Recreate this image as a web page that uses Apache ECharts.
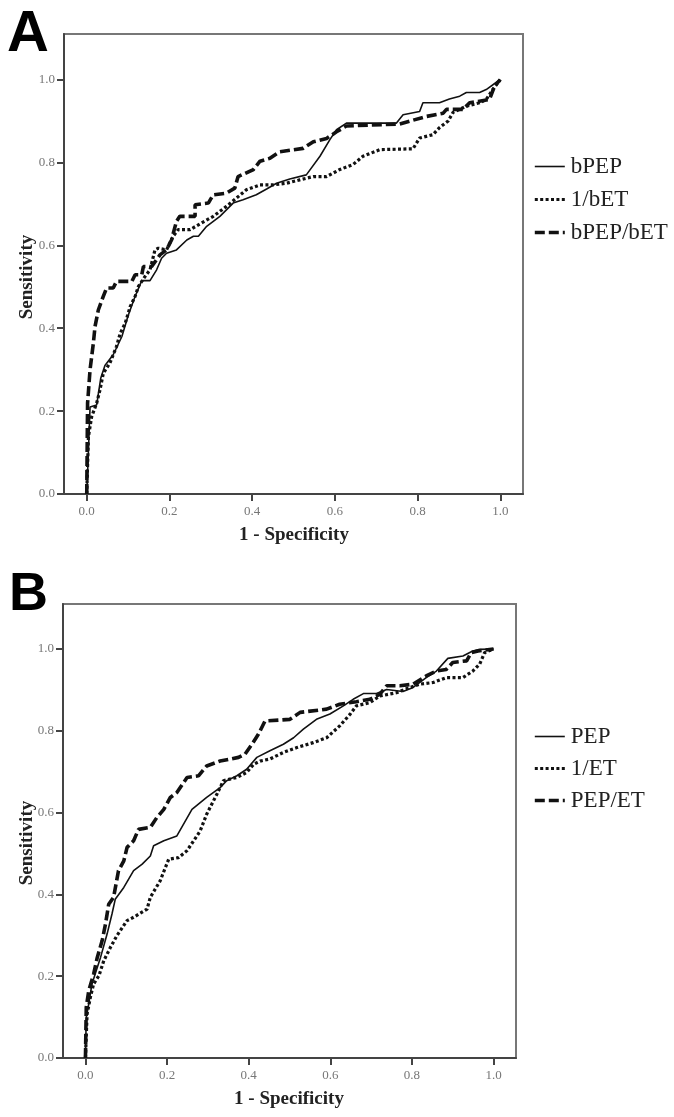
<!DOCTYPE html>
<html>
<head>
<meta charset="utf-8">
<script src="https://cdn.jsdelivr.net/npm/echarts@6/dist/echarts.min.js"></script>
<style>
html,body{margin:0;padding:0;background:#fff;}
#chart{width:674px;height:1117px;}
</style>
</head>
<body>
<div id="chart"></div>
<script>
// ---------- tick labels ----------
const tickValues = [0, 0.2, 0.4, 0.6, 0.8, 1.0];
const panelLabels = ['A', 'B'];
const xTitle = '1 - Specificity';
const yTitle = 'Sensitivity';
const namesA = ['bPEP', '1/bET', 'bPEP/bET'];
const namesB = ['PEP', '1/ET', 'PEP/ET'];

// ---------- Panel A data: [1 - specificity, sensitivity] ----------
const bPEP = [[0,0],[0.004,0.1],[0.008,0.21],[0.024,0.215],[0.034,0.28],[0.044,0.31],[0.064,0.336],[0.085,0.38],[0.1,0.43],[0.117,0.477],[0.133,0.515],[0.153,0.515],[0.169,0.541],[0.181,0.569],[0.193,0.581],[0.217,0.589],[0.242,0.613],[0.258,0.622],[0.27,0.622],[0.29,0.646],[0.322,0.67],[0.354,0.702],[0.378,0.71],[0.41,0.722],[0.435,0.736],[0.459,0.75],[0.491,0.76],[0.531,0.77],[0.564,0.815],[0.588,0.855],[0.604,0.879],[0.628,0.895],[0.749,0.895],[0.765,0.915],[0.805,0.923],[0.813,0.944],[0.853,0.944],[0.877,0.953],[0.902,0.96],[0.918,0.969],[0.95,0.969],[0.966,0.976],[0.994,0.996],[1,1]];
const inv_bET = [[0,0],[0.004,0.138],[0.012,0.187],[0.024,0.219],[0.032,0.251],[0.04,0.291],[0.056,0.316],[0.072,0.356],[0.081,0.388],[0.093,0.412],[0.105,0.452],[0.117,0.477],[0.125,0.501],[0.141,0.525],[0.153,0.541],[0.165,0.589],[0.173,0.593],[0.193,0.589],[0.209,0.622],[0.221,0.638],[0.25,0.638],[0.274,0.652],[0.306,0.67],[0.338,0.694],[0.362,0.714],[0.386,0.734],[0.419,0.746],[0.451,0.746],[0.483,0.75],[0.515,0.758],[0.548,0.766],[0.58,0.766],[0.612,0.783],[0.644,0.795],[0.668,0.815],[0.709,0.831],[0.789,0.833],[0.805,0.859],[0.837,0.867],[0.853,0.884],[0.874,0.9],[0.886,0.921],[0.918,0.936],[0.95,0.944],[0.966,0.952],[0.982,0.976],[1,1]];
const bPEP_bET = [[0,0],[0.002,0.219],[0.008,0.3],[0.016,0.364],[0.02,0.404],[0.028,0.444],[0.04,0.477],[0.048,0.497],[0.064,0.497],[0.072,0.513],[0.109,0.513],[0.117,0.529],[0.133,0.529],[0.137,0.549],[0.157,0.549],[0.177,0.577],[0.193,0.589],[0.205,0.613],[0.217,0.658],[0.225,0.67],[0.262,0.67],[0.262,0.698],[0.294,0.702],[0.306,0.722],[0.338,0.726],[0.358,0.738],[0.366,0.766],[0.403,0.783],[0.419,0.803],[0.443,0.81],[0.467,0.826],[0.523,0.834],[0.548,0.85],[0.58,0.858],[0.604,0.874],[0.628,0.888],[0.757,0.893],[0.821,0.911],[0.862,0.919],[0.87,0.928],[0.91,0.928],[0.926,0.944],[0.974,0.952],[0.986,0.984],[1,1]];

// ---------- Panel B data ----------
const PEP = [[0,0],[0.002,0.099],[0.008,0.132],[0.016,0.181],[0.029,0.221],[0.037,0.246],[0.053,0.303],[0.065,0.352],[0.073,0.388],[0.094,0.417],[0.118,0.458],[0.139,0.474],[0.159,0.494],[0.167,0.519],[0.192,0.531],[0.224,0.543],[0.261,0.608],[0.297,0.637],[0.33,0.661],[0.346,0.678],[0.371,0.69],[0.395,0.706],[0.42,0.735],[0.452,0.751],[0.485,0.767],[0.51,0.783],[0.534,0.804],[0.566,0.828],[0.599,0.841],[0.632,0.861],[0.656,0.877],[0.681,0.891],[0.713,0.891],[0.738,0.901],[0.778,0.896],[0.803,0.906],[0.835,0.93],[0.86,0.946],[0.888,0.977],[0.925,0.983],[0.949,0.995],[0.966,0.999],[1,1]];
const inv_ET = [[0,0],[0.004,0.107],[0.012,0.148],[0.02,0.181],[0.033,0.201],[0.045,0.238],[0.061,0.27],[0.077,0.299],[0.102,0.336],[0.118,0.344],[0.151,0.364],[0.159,0.393],[0.183,0.433],[0.204,0.486],[0.228,0.49],[0.249,0.507],[0.265,0.531],[0.281,0.555],[0.297,0.596],[0.322,0.645],[0.338,0.678],[0.371,0.686],[0.395,0.698],[0.412,0.718],[0.428,0.726],[0.452,0.731],[0.485,0.747],[0.518,0.759],[0.558,0.771],[0.591,0.783],[0.623,0.812],[0.648,0.84],[0.664,0.861],[0.697,0.869],[0.721,0.885],[0.762,0.893],[0.795,0.906],[0.819,0.914],[0.852,0.918],[0.884,0.93],[0.925,0.93],[0.949,0.946],[0.966,0.963],[0.978,0.991],[1,1]];
const PEP_ET = [[0,0],[0.002,0.124],[0.008,0.164],[0.02,0.205],[0.029,0.246],[0.041,0.287],[0.049,0.327],[0.057,0.376],[0.069,0.393],[0.081,0.458],[0.094,0.482],[0.102,0.515],[0.118,0.531],[0.13,0.559],[0.159,0.564],[0.175,0.588],[0.192,0.608],[0.208,0.637],[0.224,0.649],[0.249,0.686],[0.277,0.69],[0.297,0.714],[0.33,0.726],[0.375,0.735],[0.391,0.743],[0.408,0.767],[0.424,0.792],[0.44,0.824],[0.501,0.828],[0.526,0.845],[0.591,0.853],[0.623,0.865],[0.664,0.871],[0.697,0.877],[0.721,0.889],[0.738,0.91],[0.77,0.91],[0.803,0.914],[0.835,0.934],[0.86,0.946],[0.884,0.95],[0.9,0.967],[0.934,0.971],[0.945,0.991],[0.962,0.995],[1,1]];

// ---------- styling ----------
const serif = '"Liberation Serif", "DejaVu Serif", serif';
const solidStyle = {color:'#111', width:1.6, type:'solid'};
const dotStyle = {color:'#111', width:3.2, type:[3,2.4], cap:'butt'};
const dashStyle = {color:'#111', width:3.6, type:[10,4], cap:'butt'};
const styles = [solidStyle, dotStyle, dashStyle];
const hiddenSymbol = {color:'rgba(0,0,0,0)', borderColor:'rgba(0,0,0,0)', borderWidth:0, opacity:0};

function xAxisDef(gi){
  return {
    type:'value', gridIndex:gi, min:-0.055, max:1.055,
    axisLine:{show:true, onZero:false, lineStyle:{color:'#444', width:2}},
    axisTick:{show:true, inside:false, length:7, customValues:tickValues, lineStyle:{color:'#444', width:2}},
    axisLabel:{show:true, customValues:tickValues, margin:11, color:'#777', fontFamily:serif, fontSize:13,
      formatter:v => v.toFixed(1)},
    splitLine:{show:false}
  };
}
function yAxisDef(gi){
  return {
    type:'value', gridIndex:gi, min:0, max:1.11,
    axisLine:{show:true, onZero:false, lineStyle:{color:'#444', width:2}},
    axisTick:{show:true, inside:false, length:7, customValues:tickValues, lineStyle:{color:'#444', width:2}},
    axisLabel:{show:true, customValues:tickValues, margin:9, color:'#777', fontFamily:serif, fontSize:13,
      formatter:v => v.toFixed(1)},
    splitLine:{show:false}
  };
}
function mkSeries(name, data, gi, st){
  return {type:'line', name:name, data:data, xAxisIndex:gi, yAxisIndex:gi,
    showSymbol:false, symbol:'none', smooth:false, lineStyle:st, itemStyle:{color:'#111'}, animation:false,
    emphasis:{disabled:true}, z:3};
}
function legendDef(names, top, gap){
  return {
    show:true, orient:'vertical', left:528, top:top, itemWidth:30, itemHeight:14, itemGap:gap,
    textStyle:{fontFamily:serif, fontSize:23, color:'#222', padding:[0,0,0,1]},
    data:names.map((n,i)=>({name:n, lineStyle:styles[i], itemStyle:hiddenSymbol})),
    selectedMode:false
  };
}

const chart = echarts.init(document.getElementById('chart'), null, {renderer:'canvas'});
chart.setOption({
  backgroundColor:'#ffffff',
  animation:false,
  grid:[
    {left:64, top:34, width:459, height:460, show:true, borderColor:'#777', borderWidth:2, backgroundColor:'transparent'},
    {left:63, top:604, width:453, height:454, show:true, borderColor:'#777', borderWidth:2, backgroundColor:'transparent'}
  ],
  xAxis:[xAxisDef(0), xAxisDef(1)],
  yAxis:[yAxisDef(0), yAxisDef(1)],
  legend:[legendDef(namesA, 150, 10), legendDef(namesB, 720, 9)],
  series:[
    mkSeries(namesA[0], bPEP, 0, solidStyle),
    mkSeries(namesA[1], inv_bET, 0, dotStyle),
    mkSeries(namesA[2], bPEP_bET, 0, dashStyle),
    mkSeries(namesB[0], PEP, 1, solidStyle),
    mkSeries(namesB[1], inv_ET, 1, dotStyle),
    mkSeries(namesB[2], PEP_ET, 1, dashStyle)
  ],
  graphic:[
    {type:'text', left:7, top:6, style:{text:panelLabels[0], font:'bold 58px "Liberation Sans", Arial, sans-serif', fill:'#000'}},
    {type:'text', left:9, top:568, style:{text:panelLabels[1], font:'bold 54px "Liberation Sans", Arial, sans-serif', fill:'#000'}},
    {type:'text', x:27, y:277, rotation:Math.PI/2, style:{text:yTitle, font:'bold 19px '+serif, fill:'#222', align:'center', verticalAlign:'middle'}},
    {type:'text', x:27, y:843, rotation:Math.PI/2, style:{text:yTitle, font:'bold 19px '+serif, fill:'#222', align:'center', verticalAlign:'middle'}},
    {type:'text', x:294, y:535, style:{text:xTitle, font:'bold 19px '+serif, fill:'#222', align:'center', verticalAlign:'middle'}},
    {type:'text', x:289, y:1099, style:{text:xTitle, font:'bold 19px '+serif, fill:'#222', align:'center', verticalAlign:'middle'}}
  ]
});
</script>
</body>
</html>
